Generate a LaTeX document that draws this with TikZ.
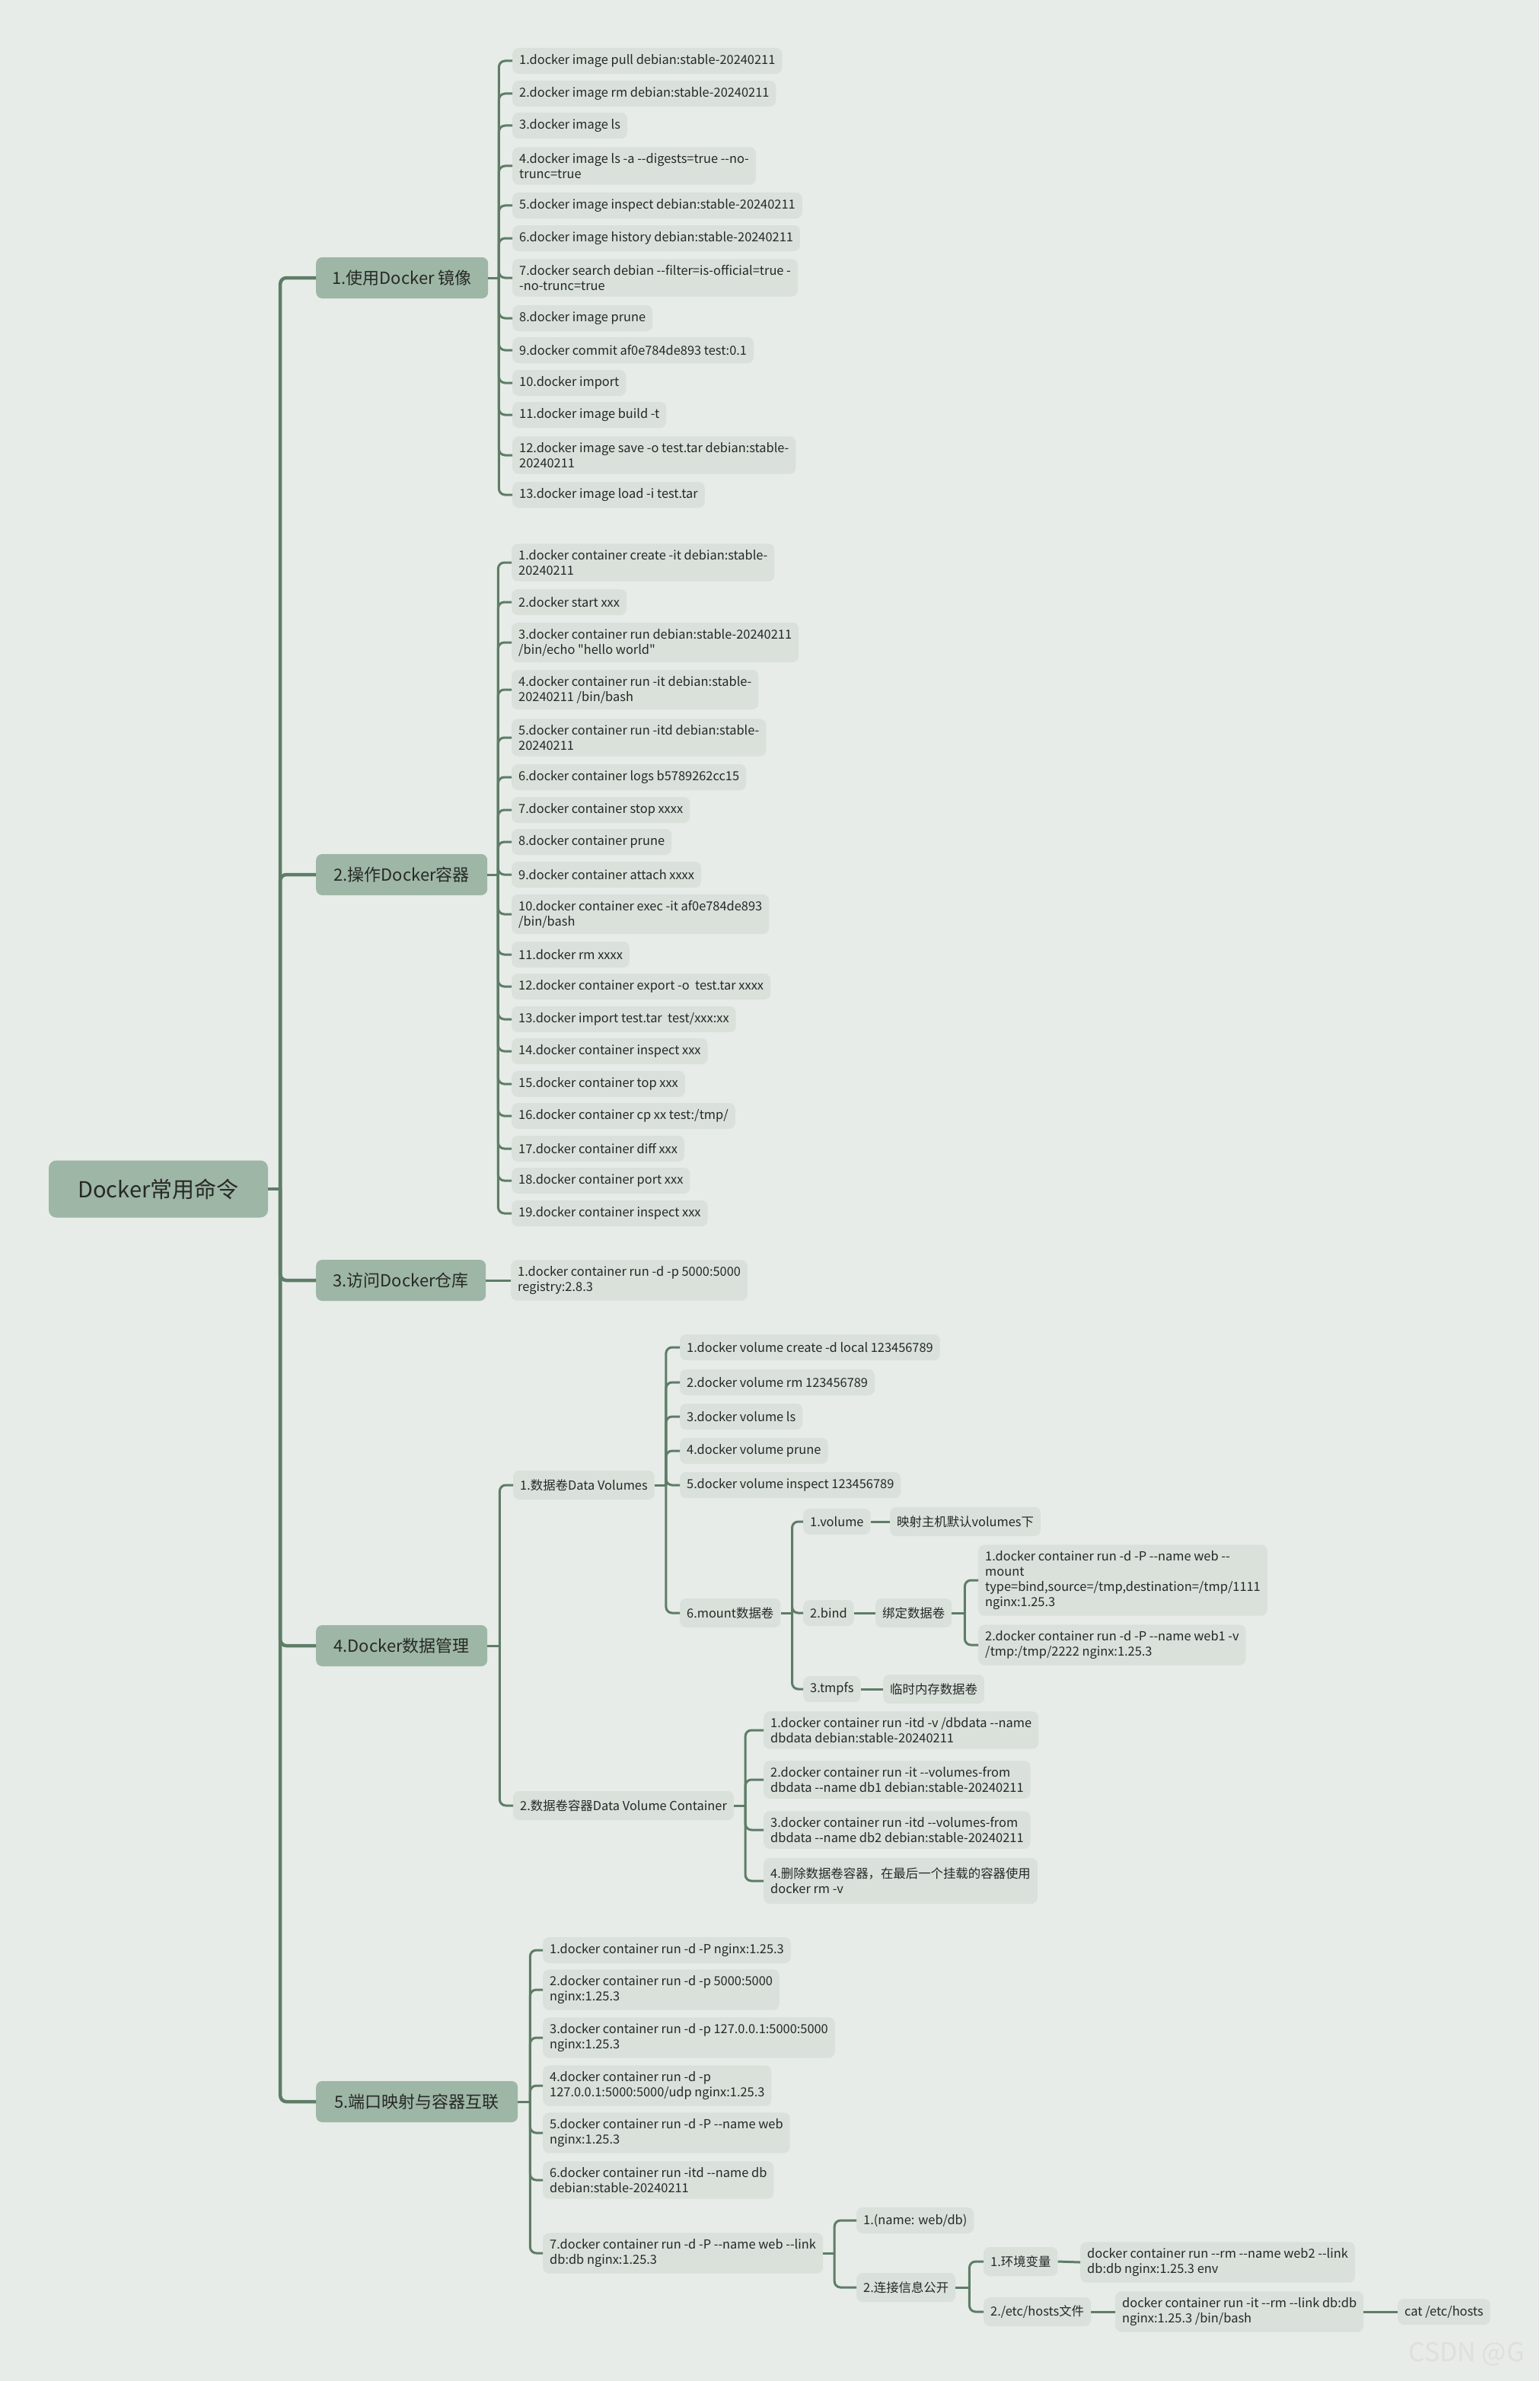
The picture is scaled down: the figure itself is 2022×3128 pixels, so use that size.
\documentclass[tikz,border=0pt]{standalone}
\usepackage{fontspec}
\setmainfont{Noto Sans CJK SC}[Ligatures=TeXOff]
\definecolor{bgc}{HTML}{E7ECE8}
\definecolor{leafc}{HTML}{D9E1DA}
\definecolor{brc}{HTML}{9EB6A5}
\definecolor{linec}{HTML}{5E7D67}
\definecolor{txtc}{HTML}{262927}
\newcommand\mmlink[4][]{%
  \draw[conn,#1] (#2.east) -- ++(#3,0);
  \foreach \ch in {#4}{\draw[conn,#1,rounded corners=8pt] (#2.east) ++(#3,0) |- (\ch.west);}}
\begin{document}
\begin{tikzpicture}[x=1pt,y=-1pt,
  leaf/.style={fill=leafc, rounded corners=8pt, inner xsep=9pt, inner ysep=8pt, anchor=west, align=left, text=txtc, font=\fontsize{16.4}{20}\selectfont, minimum height=34pt},
  mid/.style={leaf, minimum height=38pt},
  branch/.style={fill=brc, rounded corners=8pt, anchor=west, align=center, text=txtc, font=\fontsize{22}{26}\selectfont, minimum height=54pt, minimum width=#1},
  rootbox/.style={fill=brc, rounded corners=10pt, align=center, text=txtc, font=\fontsize{29}{34}\selectfont, minimum height=75pt, minimum width=288pt},
  conn/.style={draw=linec, line width=3pt}]
\useasboundingbox (0,0) rectangle (2022,3128);
\fill[bgc] (0,0) rectangle (2022,3128);

% root and branches
\node[rootbox] (root) at (208,1562) {Docker常用命令};
\node[branch=226pt] (br1) at (415,365) {1.使用Docker 镜像};
\node[branch=225pt] (br2) at (415,1149) {2.操作Docker容器};
\node[branch=223pt] (br3) at (415,1682) {3.访问Docker仓库};
\node[branch=225pt] (br4) at (415,2162) {4.Docker数据管理};
\node[branch=265pt] (br5) at (415,2761) {5.端口映射与容器互联};

% branch 1 leaves
\node[leaf] (a1) at (673,80) {1.docker image pull debian:stable-20240211};
\node[leaf] (a2) at (673,123) {2.docker image rm debian:stable-20240211};
\node[leaf] (a3) at (673,165) {3.docker image ls};
\node[leaf] (a4) at (673,218) {4.docker image ls -a --digests=true --no-\\trunc=true};
\node[leaf] (a5) at (673,270) {5.docker image inspect debian:stable-20240211};
\node[leaf] (a6) at (673,313) {6.docker image history debian:stable-20240211};
\node[leaf] (a7) at (673,365) {7.docker search debian --filter=is-official=true -\\-no-trunc=true};
\node[leaf] (a8) at (673,418) {8.docker image prune};
\node[leaf] (a9) at (673,460) {9.docker commit af0e784de893 test:0.1};
\node[leaf] (a10) at (673,503) {10.docker import};
\node[leaf] (a11) at (673,545) {11.docker image build -t};
\node[leaf] (a12) at (673,598) {12.docker image save -o test.tar debian:stable-\\20240211};
\node[leaf] (a13) at (673,650) {13.docker image load -i test.tar};

% branch 2 leaves
\node[leaf] (b1) at (672,739) {1.docker container create -it debian:stable-\\20240211};
\node[leaf] (b2) at (672,791) {2.docker start xxx};
\node[leaf] (b3) at (672,844) {3.docker container run debian:stable-20240211\\/bin/echo "hello world"};
\node[leaf] (b4) at (672,906) {4.docker container run -it debian:stable-\\20240211 /bin/bash};
\node[leaf] (b5) at (672,969) {5.docker container run -itd debian:stable-\\20240211};
\node[leaf] (b6) at (672,1021) {6.docker container logs b5789262cc15};
\node[leaf] (b7) at (672,1064) {7.docker container stop xxxx};
\node[leaf] (b8) at (672,1106) {8.docker container prune};
\node[leaf] (b9) at (672,1149) {9.docker container attach xxxx};
\node[leaf] (b10) at (672,1201) {10.docker container exec -it af0e784de893\\/bin/bash};
\node[leaf] (b11) at (672,1254) {11.docker rm xxxx};
\node[leaf] (b12) at (672,1296) {12.docker container export -o\ \ test.tar xxxx};
\node[leaf] (b13) at (672,1339) {13.docker import test.tar\ \ test/xxx:xx};
\node[leaf] (b14) at (672,1381) {14.docker container inspect xxx};
\node[leaf] (b15) at (672,1424) {15.docker container top xxx};
\node[leaf] (b16) at (672,1466) {16.docker container cp xx test:/tmp/};
\node[leaf] (b17) at (672,1509) {17.docker container diff xxx};
\node[leaf] (b18) at (672,1551) {18.docker container port xxx};
\node[leaf] (b19) at (672,1594) {19.docker container inspect xxx};

% branch 3 leaf
\node[leaf] (c1) at (671,1682) {1.docker container run -d -p 5000:5000\\registry:2.8.3};

% branch 4
\node[mid] (d1) at (674,1951) {1.数据卷Data Volumes};
\node[mid] (d2) at (674,2372) {2.数据卷容器Data Volume Container};
\node[leaf] (v1) at (893,1770) {1.docker volume create -d local 123456789};
\node[leaf] (v2) at (893,1816) {2.docker volume rm 123456789};
\node[leaf] (v3) at (893,1861) {3.docker volume ls};
\node[leaf] (v4) at (893,1906) {4.docker volume prune};
\node[leaf] (v5) at (893,1951) {5.docker volume inspect 123456789};
\node[mid] (v6) at (893,2119) {6.mount数据卷};
\node[leaf] (m1) at (1055,1999) {1.volume};
\node[mid] (m1a) at (1169,1999) {映射主机默认volumes下};
\node[leaf] (m2) at (1055,2119) {2.bind};
\node[mid] (m2a) at (1150,2119) {绑定数据卷};
\node[leaf] (m2b1) at (1285,2076) {1.docker container run -d -P --name web --\\mount\\type=bind,source=/tmp,destination=/tmp/1111\\nginx:1.25.3};
\node[leaf] (m2b2) at (1285,2161) {2.docker container run -d -P --name web1 -v\\/tmp:/tmp/2222 nginx:1.25.3};
\node[leaf] (m3) at (1055,2219) {3.tmpfs};
\node[mid] (m3a) at (1160,2219) {临时内存数据卷};
\node[leaf] (e1) at (1003,2273) {1.docker container run -itd -v /dbdata --name\\dbdata debian:stable-20240211};
\node[leaf] (e2) at (1003,2338) {2.docker container run -it --volumes-from\\dbdata --name db1 debian:stable-20240211};
\node[leaf] (e3) at (1003,2404) {3.docker container run -itd --volumes-from\\dbdata --name db2 debian:stable-20240211};
\node[leaf, minimum height=60pt] (e4) at (1003,2471) {4.删除数据卷容器，在最后一个挂载的容器使用\\docker rm -v};

% branch 5
\node[leaf] (p1) at (713,2562) {1.docker container run -d -P nginx:1.25.3};
\node[leaf] (p2) at (713,2614) {2.docker container run -d -p 5000:5000\\nginx:1.25.3};
\node[leaf] (p3) at (713,2677) {3.docker container run -d -p 127.0.0.1:5000:5000\\nginx:1.25.3};
\node[leaf] (p4) at (713,2740) {4.docker container run -d -p\\127.0.0.1:5000:5000/udp nginx:1.25.3};
\node[leaf] (p5) at (713,2802) {5.docker container run -d -P --name web\\nginx:1.25.3};
\node[leaf] (p6) at (713,2864) {6.docker container run -itd --name db\\debian:stable-20240211};
\node[leaf] (p7) at (713,2960) {7.docker container run -d -P --name web --link\\db:db nginx:1.25.3};
\node[leaf] (q1) at (1125,2917) {1.(name: web/db)};
\node[mid] (q2) at (1125,3005) {2.连接信息公开};
\node[mid] (r1) at (1292,2971) {1.环境变量};
\node[leaf] (r1a) at (1419,2972) {docker container run --rm --name web2 --link\\db:db nginx:1.25.3 env};
\node[mid] (r2) at (1292,3037) {2./etc/hosts文件};
\node[leaf] (r2a) at (1465,3037) {docker container run -it --rm --link db:db\\nginx:1.25.3 /bin/bash};
\node[leaf] (r2b) at (1836,3037) {cat /etc/hosts};

% connectors
\mmlink[line width=4.5pt]{root}{16}{br1,br2,br3,br4,br5}
\mmlink{br1}{14}{a1,a2,a3,a4,a5,a6,a7,a8,a9,a10,a11,a12,a13}
\mmlink{br2}{14}{b1,b2,b3,b4,b5,b6,b7,b8,b9,b10,b11,b12,b13,b14,b15,b16,b17,b18,b19}
\draw[conn] (br3.east) -- (c1.west);
\mmlink{br4}{16}{d1,d2}
\mmlink{d1}{15}{v1,v2,v3,v4,v5,v6}
\mmlink{v6}{15}{m1,m2,m3}
\draw[conn] (m1.east) -- (m1a.west);
\draw[conn] (m2.east) -- (m2a.west);
\draw[conn] (m3.east) -- (m3a.west);
\mmlink{m2a}{17}{m2b1,m2b2}
\mmlink{d2}{15}{e1,e2,e3,e4}
\mmlink{br5}{16}{p1,p2,p3,p4,p5,p6,p7}
\mmlink{p7}{15}{q1,q2}
\mmlink{q2}{18}{r1,r2}
\draw[conn] (r1.east) -- (r1a.west);
\draw[conn] (r2.east) -- (r2a.west);
\draw[conn] (r2a.east) -- (r2b.west);

% watermark
\node[anchor=west, inner sep=0pt, text=white!75!gray, font=\fontsize{34}{34}\selectfont] (wm) at (1850,3093) {CSDN @G};
\end{tikzpicture}
\end{document}
